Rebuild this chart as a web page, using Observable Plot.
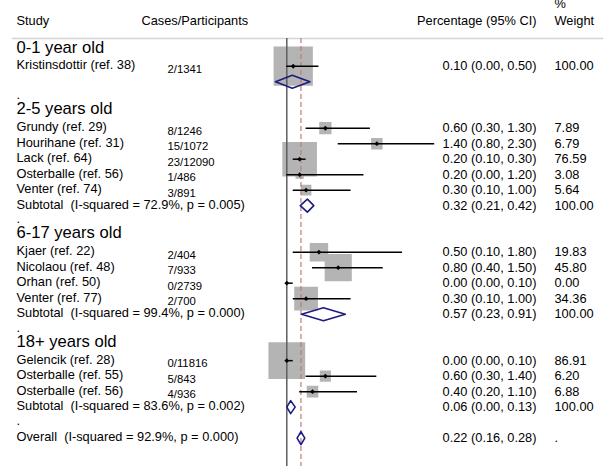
<!DOCTYPE html>
<html>
<head>
<meta charset="utf-8">
<script src="https://cdn.jsdelivr.net/npm/d3@7"></script>
<script src="https://cdn.jsdelivr.net/npm/@observablehq/plot@0.6"></script>
<style>
  html, body { margin: 0; padding: 0; background: #fff; }
  #chart svg { display: block; }
</style>
</head>
<body>
<div id="chart"></div>
<script>
// ---- data ----
const groups = ["0-1 year old", "2-5 years old", "6-17 years old", "18+ years old"];
const studyGroup = [0, 1, 1, 1, 1, 1, 2, 2, 2, 2, 3, 3, 3];
const studyNames = ["Kristinsdottir (ref. 38)", "Grundy (ref. 29)", "Hourihane (ref. 31)", "Lack (ref. 64)",
  "Osterballe (ref. 56)", "Venter (ref. 74)", "Kjaer (ref. 22)", "Nicolaou (ref. 48)", "Orhan (ref. 50)",
  "Venter (ref. 77)", "Gelencik (ref. 28)", "Osterballe (ref. 55)", "Osterballe (ref. 56)"];
const cases = ["2/1341", "8/1246", "15/1072", "23/12090", "1/486", "3/891", "2/404", "7/933", "0/2739",
  "2/700", "0/11816", "5/843", "4/936"];
const est = [0.10, 0.60, 1.40, 0.20, 0.20, 0.30, 0.50, 0.80, 0.00, 0.30, 0.00, 0.60, 0.40];
const lo = [0.00, 0.30, 0.80, 0.10, 0.00, 0.10, 0.10, 0.40, 0.00, 0.10, 0.00, 0.30, 0.20];
const hi = [0.50, 1.30, 2.30, 0.30, 1.20, 1.00, 1.80, 1.50, 0.10, 1.00, 0.10, 1.40, 1.10];
const weight = [100.00, 7.89, 6.79, 76.59, 3.08, 5.64, 19.83, 45.80, 0.00, 34.36, 86.91, 6.20, 6.88];

const subLabel = [null, "Subtotal  (I-squared = 72.9%, p = 0.005)", "Subtotal  (I-squared = 99.4%, p = 0.000)",
  "Subtotal  (I-squared = 83.6%, p = 0.002)"];
const subEst = [0.085, 0.32, 0.57, 0.06];
const subLo = [-0.175, 0.21, 0.23, 0.00];
const subHi = [0.36, 0.42, 0.91, 0.13];
const subShowValues = [false, true, true, true];

const overallLabel = "Overall  (I-squared = 92.9%, p = 0.000)";
const overallEst = 0.22, overallLo = 0.16, overallHi = 0.28;

const headers = {study: "Study", cases: "Cases/Participants", ci: "Percentage (95% CI)", pct: "%", weight: "Weight"};

// ---- build rows ----
const fmt = v => v.toFixed(2);
const nb = s => s.replace(/  /g, " \u00a0");
const headingRows = [], studyRows = [], subRows = [], blankRows = [];
let r = 0;
groups.forEach((g, gi) => {
  headingRows.push({row: r++, label: g});
  studyNames.forEach((n, i) => {
    if (studyGroup[i] !== gi) return;
    studyRows.push({row: r++, label: n, cases: cases[i], est: est[i], lo: lo[i], hi: hi[i], weight: weight[i],
      ci: `${fmt(est[i])} (${fmt(lo[i])}, ${fmt(hi[i])})`, w: fmt(weight[i])});
  });
  subRows.push({row: r++, label: subLabel[gi] ? nb(subLabel[gi]) : "", est: subEst[gi], lo: subLo[gi], hi: subHi[gi],
    ci: subShowValues[gi] ? `${fmt(subEst[gi])} (${fmt(subLo[gi])}, ${fmt(subHi[gi])})` : "",
    w: subShowValues[gi] ? "100.00" : "", id: "g" + gi});
  blankRows.push({row: r++, label: "."});
});
subRows.push({row: r++, label: nb(overallLabel), est: overallEst, lo: overallLo, hi: overallHi,
  ci: `${fmt(overallEst)} (${fmt(overallLo)}, ${fmt(overallHi)})`, w: ".", id: "overall"});

const halfH = 0.42;
const diamondPts = subRows.flatMap(d => [
  {id: d.id, x: d.lo, y: d.row},
  {id: d.id, x: d.est, y: d.row - halfH},
  {id: d.id, x: d.hi, y: d.row},
  {id: d.id, x: d.est, y: d.row + halfH},
  {id: d.id, x: d.lo, y: d.row}
]);

const labelRows = [...studyRows, ...subRows];
const font = "Liberation Sans, Arial, Helvetica, sans-serif";
const hdr = {lineAnchor: "middle", fontSize: 12.8, text: d => d};

const chart = Plot.plot({
  width: 609,
  height: 466,
  marginTop: 38,
  marginBottom: 0,
  marginLeft: 12,
  marginRight: 7,
  style: {fontFamily: font, background: "#fff", color: "#000"},
  x: {domain: [-4.266, 4.910], axis: null},
  y: {domain: [-0.787, 26.83], range: [38, 466], axis: null},
  r: {type: "sqrt", domain: [0, 100], range: [0, 21.2]},
  marks: [
    Plot.frame({anchor: "top", stroke: "#d4d4d4", strokeWidth: 1.5}),
    // weight squares
    Plot.dot(studyRows.filter(d => d.weight > 0), {x: "est", y: "row", r: "weight", symbol: "square",
      fill: "#b4b4b4", stroke: "#b4b4b4", strokeWidth: 1.7}),
    // reference lines
    Plot.ruleX([0], {stroke: "#5f5f5f", strokeWidth: 1.5}),
    Plot.ruleX([overallEst], {stroke: "#c07a7a", strokeWidth: 1.2, strokeDasharray: "5,3"}),
    // CI lines
    Plot.ruleY(studyRows, {y: "row", x1: "lo", x2: "hi", stroke: "#000", strokeWidth: 1.5}),
    Plot.dot(studyRows, {x: "est", y: "row", symbol: "diamond2", fill: "#000", r: 2.2}),
    // diamonds
    Plot.line(diamondPts, {x: "x", y: "y", z: "id", stroke: "#1c1c80", strokeWidth: 1.6, fill: "none"}),
    // headers
    Plot.text([headers.study], {...hdr, frameAnchor: "top-left", dx: 4, dy: -18, textAnchor: "start"}),
    Plot.text([headers.cases], {...hdr, frameAnchor: "top-left", dx: 129, dy: -18, textAnchor: "start"}),
    Plot.text([headers.ci], {...hdr, frameAnchor: "top-right", dx: -66, dy: -18, textAnchor: "end"}),
    Plot.text([headers.pct], {...hdr, frameAnchor: "top-right", dx: -48, dy: -35, textAnchor: "start"}),
    Plot.text([headers.weight], {...hdr, frameAnchor: "top-right", dx: -48, dy: -18, textAnchor: "start"}),
    // group headings
    Plot.text(headingRows, {y: "row", text: "label", frameAnchor: "left", dx: 4, dy: -3.5, textAnchor: "start", fontSize: 16.6}),
    // blank row dots
    Plot.text(blankRows, {y: "row", text: "label", frameAnchor: "left", dx: 4, dy: -2, textAnchor: "start", fontSize: 12.8}),
    // study / subtotal labels
    Plot.text(labelRows, {y: "row", text: "label", frameAnchor: "left", dx: 4, dy: -1, textAnchor: "start", fontSize: 12.8}),
    Plot.text(studyRows, {y: "row", text: "cases", frameAnchor: "left", dx: 155, dy: 3, textAnchor: "start", fontSize: 11.3}),
    Plot.text(labelRows, {y: "row", text: "ci", frameAnchor: "right", dx: -66, textAnchor: "end", fontSize: 12.8}),
    Plot.text(labelRows, {y: "row", text: "w", frameAnchor: "right", dx: -48, textAnchor: "start", fontSize: 12.8})
  ]
});
document.getElementById("chart").appendChild(chart);
</script>
</body>
</html>
